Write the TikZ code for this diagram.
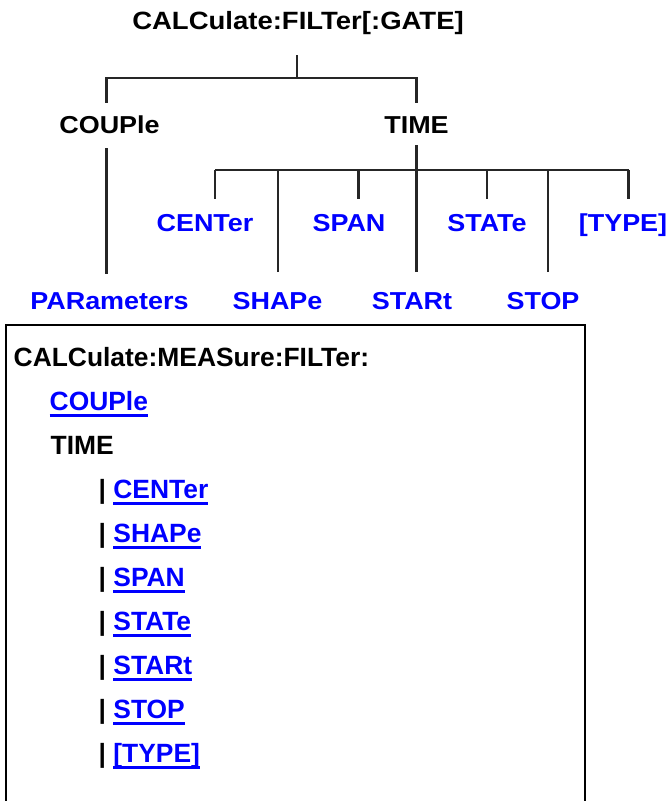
\documentclass[tikz,border=0pt]{standalone}
\usepackage{fontspec}
\setmainfont{Liberation Sans}
\newfontfamily\treefont{Liberation Sans}[FakeStretch=1.10]
\newcommand\lnk[1]{\textcolor{blue}{\setbox0\hbox{#1}\rlap{\rule[-6pt]{\wd0}{2.4pt}}\box0}}
\usetikzlibrary{positioning}

\begin{document}
\begin{tikzpicture}[x=1pt,y=-1pt,
  cmd/.style={font=\treefont\bfseries\fontsize{24.5}{28}\selectfont,anchor=base,inner sep=0pt},
  sub/.style={cmd,text=blue},
  wire/.style={line width=2.2pt,black!85},
  entry/.style={font=\bfseries\fontsize{26.4}{30}\selectfont,anchor=base west,inner sep=0pt}]
  \useasboundingbox (0,0) rectangle (671,801);
  % command tree
  \node[cmd,font=\treefont\bfseries\fontsize{25}{28}\selectfont] (root) at (298,29.5) {CALCulate:FILTer[:GATE]};
  \node[cmd] (couple) at (109.5,133) {COUPle};
  \node[cmd] (time) at (416.5,133) {TIME};
  \node[sub] (params) at (109.5,309) {PARameters};
  \node[sub] (center) at (205,231) {CENTer};
  \node[sub] (span) at (349,231) {SPAN};
  \node[sub] (state) at (487,231) {STATe};
  \node[sub] (type) at (623,231) {[TYPE]};
  \node[sub] (shape) at (277.5,309) {SHAPe};
  \node[sub] (start) at (412,309) {STARt};
  \node[sub] (stop) at (543,309) {STOP};
  \draw[wire] ([xshift=-1pt,yshift=-25.5pt]root.base) -- ([xshift=-1pt,yshift=-48.5pt]root.base);
  \draw[wire] ([xshift=-3pt,yshift=30.5pt]couple.base) |- ([yshift=-48.5pt]root.base)
    -| ([yshift=30pt]time.base);
  \draw[wire] ([xshift=-3pt,yshift=-15pt]couple.base) -- ([xshift=-3pt,yshift=35pt]params.base);
  \draw[wire] ([yshift=-12pt]time.base) -- ([xshift=4.5pt,yshift=37pt]start.base);
  \draw[wire] ([xshift=10pt,yshift=61pt]center.base) -- ([xshift=5.5pt,yshift=61pt]type.base);
  \foreach \n/\dx in {center/10,span/9.5,state/0,type/5.5}
    \draw[wire] ([xshift=\dx pt,yshift=32.5pt]\n.base) -- ++(0,-29);
  \foreach \n/\dx in {shape/0.5,stop/5}
    \draw[wire] ([xshift=\dx pt,yshift=37pt]\n.base) -- ++(0,-102);
  % syntax box
  \draw[line width=2pt] (6,801) |- (585,325) -- (585,801);
  \node[entry] (head) at (13.5,366.7) {CALCulate:MEASure:FILTer:};
  \node[entry] (bcouple) at (49.5,410.7) {\lnk{COUPle}};
  \node[entry] (btime) at (50.5,454.7) {TIME};
  \foreach \w [count=\i] in {CENTer,SHAPe,SPAN,STATe,STARt,STOP,{[TYPE]}}
    \node[entry] (item\i) at (98.5,{454.7+44*\i}) {| \lnk{\w}};
\end{tikzpicture}
\end{document}
